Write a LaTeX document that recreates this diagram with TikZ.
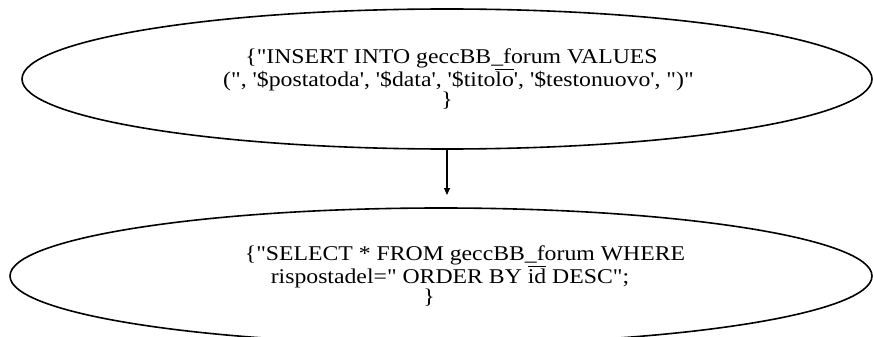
\documentclass[tikz,border=0pt]{standalone}
\usepackage{fontspec}
\setmainfont{Liberation Serif}[FakeStretch=1.13, Ligatures=TeXOff]
\usetikzlibrary{shapes.geometric, arrows.meta}
% raya encima de unas letras
\newcommand\topbar[1]{\setbox0\hbox{#1}\rlap{\rule[0.82em]{\wd0}{0.5pt}}#1}

\begin{document}
\begin{tikzpicture}[x=1pt, y=-1pt, line width=1.6pt,
    consulta/.style={draw, ellipse, inner sep=0pt, align=center,
      font=\fontsize{21}{19}\selectfont}]
  \useasboundingbox (0,0) rectangle (873,337);
  \clip (0,0) rectangle (873,337);
  % la consulta que guarda el mensaje nuevo
  \node[consulta, minimum width=850pt, minimum height=140pt] (insert) at (447,79)
    {\hspace*{9pt}\{"INSERT INTO geccBB\_forum VALUES\\
     \hspace*{23pt}(", '\$postatoda', '\$data', '\$tito\topbar{lo}', '\$testonuovo', ")"\\
     \}};
  % la consulta que lee las respuestas
  \node[consulta, minimum width=862pt, minimum height=136pt] (select) at (441,276)
    {\hspace*{48pt}\{"SELECT * FROM geccBB\_forum WHERE\\
     \hspace*{18pt}rispostadel=" ORDER BY \topbar{id} DESC";\\
     \}\hspace*{24pt}\mbox{}};
  % la flecha entre las dos
  \coordinate (punta) at (insert.south |- 0,195);
  \draw[-{Triangle[length=7pt, width=6pt]}, line width=1.3pt] (insert.south) -- (punta);
\end{tikzpicture}
\end{document}
